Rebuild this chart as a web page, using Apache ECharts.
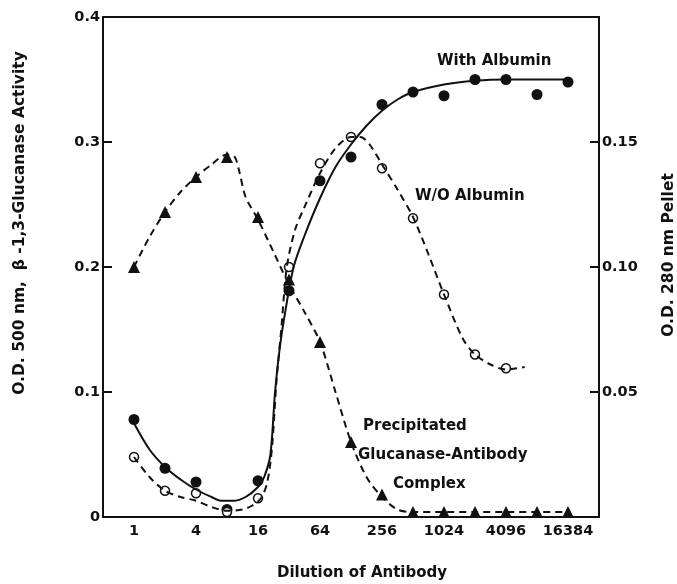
<!DOCTYPE html>
<html>
<head>
<meta charset="utf-8">
<script src="https://cdn.jsdelivr.net/npm/echarts@6/dist/echarts.min.js"></script>
<style>
  html, body { margin: 0; padding: 0; background: #fff; }
  #chart { width: 677px; height: 584px; }
</style>
</head>
<body>
<div id="chart"></div>
<script>
// x values are log2 of the dilution (0 -> 1, 14 -> 16384)
var dilutionSteps = [0, 1, 2, 3, 4, 5, 6, 7, 8, 9, 10, 11, 12, 13, 14]

// measured points
var withAlbumin = [0.078, 0.039, 0.028, 0.006, 0.029, 0.181, 0.269, 0.288, 0.330, 0.340, 0.337, 0.350, 0.350, 0.338, 0.348]
var woAlbuminSteps = [0, 1, 2, 3, 4, 5, 6, 7, 8, 9, 10, 11, 12]
var woAlbumin = [0.048, 0.021, 0.019, 0.004, 0.015, 0.200, 0.283, 0.304, 0.279, 0.239, 0.178, 0.130, 0.119]
// precipitate, right axis (O.D. 280 nm)
var pellet = [0.100, 0.122, 0.136, 0.144, 0.120, 0.095, 0.070, 0.030, 0.009, 0.002, 0.002, 0.002, 0.002, 0.002, 0.002]

// hand drawn curves
var withCurveX = [0, 0.5, 1, 1.5, 2, 2.5, 2.8, 3.2, 3.6, 4, 4.2, 4.4, 4.55, 4.7, 4.85, 5.15, 5.5, 6, 6.5, 7, 7.5, 8, 8.5, 9, 10, 11, 12, 13, 14]
var withCurveY = [0.075, 0.054, 0.040, 0.030, 0.022, 0.016, 0.013, 0.013, 0.016, 0.024, 0.032, 0.050, 0.100, 0.135, 0.160, 0.200, 0.225, 0.255, 0.280, 0.298, 0.313, 0.325, 0.334, 0.340, 0.346, 0.349, 0.350, 0.350, 0.350]
var woCurveX = [0, 0.5, 1, 1.5, 2, 2.5, 3, 3.5, 3.8, 4.1, 4.3, 4.45, 4.6, 4.75, 4.93, 5.2, 5.5, 6, 6.5, 7, 7.3, 7.6, 8, 8.5, 9, 9.5, 10, 10.6, 11, 11.5, 12, 12.6]
var woCurveY = [0.048, 0.032, 0.021, 0.016, 0.013, 0.008, 0.005, 0.006, 0.009, 0.015, 0.028, 0.055, 0.110, 0.150, 0.200, 0.230, 0.248, 0.275, 0.295, 0.304, 0.304, 0.298, 0.282, 0.262, 0.240, 0.210, 0.178, 0.143, 0.130, 0.122, 0.118, 0.120]
var pelletCurveX = [0, 0.5, 1, 1.5, 2, 2.5, 3, 3.25, 3.4, 3.6, 4, 4.5, 5, 5.5, 6, 6.5, 7, 7.5, 8, 8.5, 9, 10, 11, 12, 13, 14]
var pelletCurveY = [0.100, 0.112, 0.122, 0.130, 0.136, 0.141, 0.145, 0.144, 0.138, 0.128, 0.119, 0.106, 0.093, 0.082, 0.070, 0.050, 0.030, 0.016, 0.008, 0.003, 0.002, 0.002, 0.002, 0.002, 0.002, 0.002]

var leftTicks = [0, 0.1, 0.2, 0.3, 0.4]
var rightTicks = [0.05, 0.10, 0.15]

function pairs (xs, ys) {
  return xs.map(function (x, i) { return [x, ys[i]] })
}

var font = '"DejaVu Sans", sans-serif'
var txt = { fontFamily: font, fontWeight: 'bold', fontSize: 15, fill: '#111' }
var title = { fontFamily: font, fontWeight: 'bold', fontSize: 15.5, fill: '#111' }
var axisLbl = { fontFamily: font, fontWeight: 'bold', fontSize: 14.5, color: '#111' }
var frame = { show: true, onZero: false, lineStyle: { color: '#111', width: 2 } }
var curve = { type: 'line', smooth: 0.3, showSymbol: false, silent: true }

var chart = echarts.init(document.getElementById('chart'))
var option = {
  animation: false,
  backgroundColor: '#fff',
  grid: { left: 103, right: 78, top: 17, bottom: 67 },
  xAxis: [
    {
      type: 'value', min: -1, max: 15, interval: 1,
      axisLine: frame,
      axisTick: { show: false },
      splitLine: { show: false },
      axisLabel: Object.assign({
        margin: 7,
        formatter: function (v) {
          return (v >= 0 && v % 2 === 0) ? String(Math.pow(2, v)) : ''
        }
      }, axisLbl)
    },
    {
      // top edge of the frame only
      type: 'value', min: -1, max: 15, position: 'top',
      axisLine: frame, axisTick: { show: false }, axisLabel: { show: false }, splitLine: { show: false }
    }
  ],
  yAxis: [
    {
      type: 'value', min: 0, max: 0.4, interval: 0.1,
      axisLine: frame,
      axisTick: { show: true, inside: true, length: 9, lineStyle: { color: '#111', width: 2 } },
      splitLine: { show: false },
      axisLabel: Object.assign({
        margin: 3,
        formatter: function (v) {
          var hit = leftTicks.filter(function (t) { return Math.abs(t - v) < 1e-6 })
          if (!hit.length) return ''
          return v === 0 ? '0' : v.toFixed(1)
        }
      }, axisLbl)
    },
    {
      type: 'value', min: 0, max: 0.2, interval: 0.05, position: 'right',
      axisLine: frame,
      axisTick: { show: true, inside: true, length: 9, lineStyle: { color: '#111', width: 2 } },
      splitLine: { show: false },
      axisLabel: Object.assign({
        margin: 3,
        formatter: function (v) {
          var hit = rightTicks.filter(function (t) { return Math.abs(t - v) < 1e-6 })
          return hit.length ? v.toFixed(2) : ''
        }
      }, axisLbl)
    }
  ],
  series: [
    Object.assign({
      name: 'With Albumin curve',
      lineStyle: { color: '#111', width: 2 },
      data: pairs(withCurveX, withCurveY)
    }, curve),
    Object.assign({
      name: 'W/O Albumin curve',
      lineStyle: { color: '#111', width: 2, type: [7, 5] },
      data: pairs(woCurveX, woCurveY)
    }, curve),
    Object.assign({
      name: 'Pellet curve', yAxisIndex: 1,
      lineStyle: { color: '#111', width: 2, type: [7, 5] },
      data: pairs(pelletCurveX, pelletCurveY)
    }, curve),
    {
      name: 'With Albumin', type: 'scatter', symbol: 'circle', symbolSize: 11,
      itemStyle: { color: '#111', opacity: 1 },
      data: pairs(dilutionSteps, withAlbumin)
    },
    {
      name: 'W/O Albumin', type: 'scatter', symbol: 'circle', symbolSize: 9,
      itemStyle: { color: '#fff', borderColor: '#111', borderWidth: 1.5, opacity: 1 },
      data: pairs(woAlbuminSteps, woAlbumin)
    },
    {
      name: 'Pellet', type: 'scatter', symbol: 'triangle', symbolSize: 12, yAxisIndex: 1,
      itemStyle: { color: '#111', opacity: 1 },
      data: pairs(dilutionSteps, pellet)
    }
  ],
  graphic: [
    { type: 'text', left: 437, top: 54, style: Object.assign({ text: 'With Albumin' }, txt) },
    { type: 'text', left: 415, top: 189, style: Object.assign({ text: 'W/O Albumin' }, txt) },
    { type: 'text', left: 363, top: 419, style: Object.assign({ text: 'Precipitated' }, txt) },
    { type: 'text', left: 358, top: 448, style: Object.assign({ text: 'Glucanase-Antibody' }, txt) },
    { type: 'text', left: 393, top: 477, style: Object.assign({ text: 'Complex' }, txt) },
    { type: 'text', x: 362, y: 573, style: Object.assign({ text: 'Dilution of Antibody', align: 'center', verticalAlign: 'middle' }, txt) },
    { type: 'text', x: 20, y: 223, rotation: Math.PI / 2,
      style: Object.assign({ text: 'O.D. 500 nm,  β -1,3-Glucanase Activity', align: 'center', verticalAlign: 'middle' }, title) },
    { type: 'text', x: 669, y: 255, rotation: Math.PI / 2,
      style: Object.assign({ text: 'O.D. 280 nm Pellet', align: 'center', verticalAlign: 'middle' }, title) }
  ]
}
chart.setOption(option)
</script>
</body>
</html>
